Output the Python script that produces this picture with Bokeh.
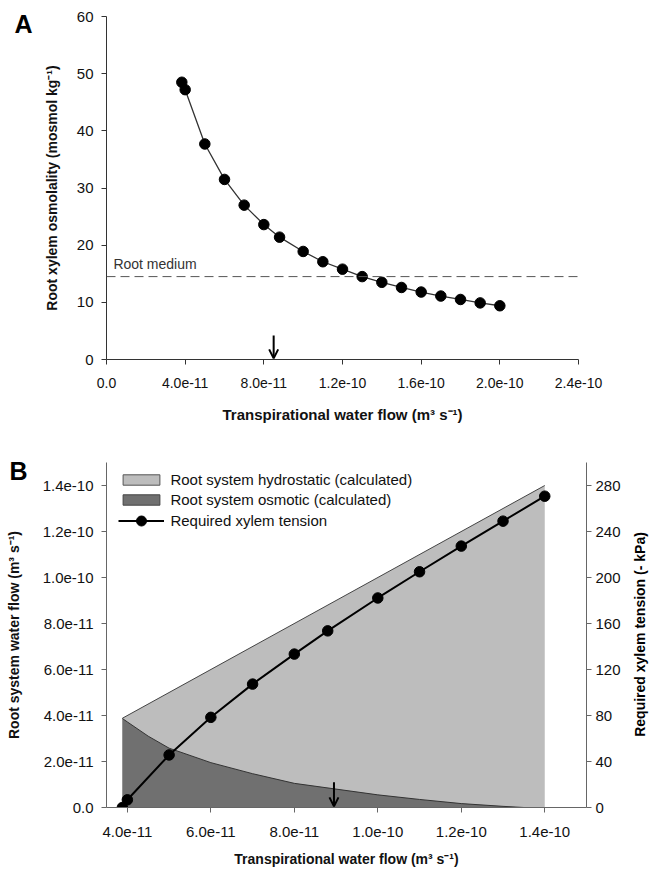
import math
from bokeh.plotting import figure
from bokeh.models import (Range1d, LinearAxis, FixedTicker, Label, Arrow, OpenHead,
                          Legend, LegendItem, Span)
from bokeh.layouts import column
from bokeh.embed import file_html
from bokeh.resources import INLINE

FONT = "Liberation Sans"

# ---------------- Panel A data ----------------
flow_a = [3.83e-11, 4.0e-11, 5.0e-11, 6.0e-11, 7.0e-11, 8.0e-11, 8.8e-11, 1.0e-10,
          1.1e-10, 1.2e-10, 1.3e-10, 1.4e-10, 1.5e-10, 1.6e-10, 1.7e-10, 1.8e-10,
          1.9e-10, 2.0e-10]
osmolality_a = [48.5, 47.2, 37.7, 31.5, 27.0, 23.6, 21.4, 18.9, 17.1, 15.8, 14.5,
                13.5, 12.6, 11.8, 11.1, 10.5, 9.9, 9.4]
root_medium = 14.5
arrow_a = [8.5e-11, 4.2, 0.2]  # x, y_start, y_end
xticks_a = [0.0, 4.0e-11, 8.0e-11, 1.2e-10, 1.6e-10, 2.0e-10, 2.4e-10]
xlabels_a = ["0.0", "4.0e-11", "8.0e-11", "1.2e-10", "1.6e-10", "2.0e-10", "2.4e-10"]
yticks_a = [0, 10, 20, 30, 40, 50, 60]
ylabels_a = ["0", "10", "20", "30", "40", "50", "60"]
panel_letter_a = ("A", 58.7)

# ---------------- Panel B data ----------------
total_flow_x = [3.88e-11, 1.4e-10]
total_flow_y = [3.88e-11, 1.4e-10]
osm_flow_x = [3.88e-11, 4.0e-11, 4.5e-11, 5.0e-11, 6.0e-11, 7.0e-11, 8.0e-11, 9.0e-11,
              1.0e-10, 1.1e-10, 1.2e-10, 1.3e-10, 1.35e-10]
osm_flow_y = [3.87e-11, 3.72e-11, 3.1e-11, 2.58e-11, 1.95e-11, 1.47e-11, 1.05e-11,
              0.8e-11, 0.55e-11, 0.35e-11, 0.17e-11, 0.05e-11, 0.0]
flow_b = [3.88e-11, 4.0e-11, 5.0e-11, 6.0e-11, 7.0e-11, 8.0e-11, 8.8e-11, 1.0e-10,
          1.1e-10, 1.2e-10, 1.3e-10, 1.4e-10]
tension_kpa = [0, 6.7, 45.7, 78.4, 107.3, 133.4, 153.6, 182.2, 205.0, 227.3, 249.0, 270.7]
arrow_b = [8.95e-11, 1.1e-11, 0.05e-11]
xticks_b = [4.0e-11, 6.0e-11, 8.0e-11, 1.0e-10, 1.2e-10, 1.4e-10]
xlabels_b = ["4.0e-11", "6.0e-11", "8.0e-11", "1.0e-10", "1.2e-10", "1.4e-10"]
yticks_b = [0.0, 2.0e-11, 4.0e-11, 6.0e-11, 8.0e-11, 1.0e-10, 1.2e-10, 1.4e-10]
ylabels_b = ["0.0", "2.0e-11", "4.0e-11", "6.0e-11", "8.0e-11", "1.0e-10", "1.2e-10", "1.4e-10"]
rticks_b = [0, 40, 80, 120, 160, 200, 240, 280]
rlabels_b = ["0", "40", "80", "120", "160", "200", "240", "280"]
right_title = "Required xylem tension (- kPa)"
right_title_anchor = 61.5  # kPa position where the rotated title starts
panel_letter_b = ("B", 1.463e-10)


def style_axis(ax, color, tick_size, label_size):
    ax.axis_line_color = color
    ax.major_tick_line_color = color
    ax.major_tick_out = 5
    ax.major_tick_in = 0
    ax.minor_tick_line_color = None
    ax.major_label_text_font = FONT
    ax.major_label_text_font_size = tick_size
    ax.major_label_text_color = "#111111"
    ax.axis_label_text_font = FONT
    ax.axis_label_text_font_style = "bold"
    ax.axis_label_text_font_size = label_size
    ax.axis_label_text_color = "#111111"


def text_axis(p, side, text, pos, standoff, size, orientation="horizontal", range_name=None):
    """Bare outer axis whose single tick label carries a free-standing text."""
    kw = {"y_range_name": range_name} if range_name else {}
    ax = LinearAxis(**kw)
    p.add_layout(ax, side)
    ax.axis_line_color = None
    ax.major_tick_line_color = None
    ax.minor_tick_line_color = None
    ax.ticker = FixedTicker(ticks=[pos])
    ax.major_label_overrides = {pos: text}
    ax.major_label_orientation = orientation
    ax.major_label_standoff = standoff
    ax.major_label_text_font = FONT
    ax.major_label_text_font_style = "bold"
    ax.major_label_text_font_size = size
    ax.major_label_text_color = "black"
    return ax


# ================= Panel A =================
pa = figure(width=651, height=434, output_backend="svg", toolbar_location=None,
            x_range=Range1d(0, 2.4e-10), y_range=Range1d(0, 60),
            min_border_left=104, min_border_right=70, min_border_top=16, min_border_bottom=75)
pa.grid.visible = False
pa.outline_line_color = None

style_axis(pa.xaxis[0], "#333333", "14px", "15px")
style_axis(pa.yaxis[0], "#333333", "15px", "14px")
pa.xaxis[0].ticker = FixedTicker(ticks=xticks_a)
pa.xaxis[0].major_label_overrides = dict(zip(xticks_a, xlabels_a))
pa.yaxis[0].ticker = FixedTicker(ticks=yticks_a)
pa.yaxis[0].major_label_overrides = dict(zip(yticks_a, ylabels_a))
pa.xaxis[0].axis_label = "Transpirational water flow (m\u00b3 s\u207b\u00b9)"
pa.yaxis[0].axis_label = "Root xylem osmolality (mosmol kg\u207b\u00b9)"
pa.xaxis[0].major_label_standoff = 13
pa.xaxis[0].axis_label_standoff = 15
pa.yaxis[0].major_label_standoff = 8
pa.yaxis[0].axis_label_standoff = 14
text_axis(pa, "left", panel_letter_a[0], panel_letter_a[1], 2, "25px")

pa.add_layout(Span(location=root_medium, dimension="width", line_color="#555555",
                   line_width=1, line_dash="9 5"))
pa.add_layout(Label(x=0.35e-11, y=root_medium + 0.8, text="Root medium",
                    text_font=FONT, text_font_size="14px", text_color="#333333"))
pa.line(flow_a, osmolality_a, line_color="#333333", line_width=1.3)
pa.scatter(flow_a, osmolality_a, size=10.5, fill_color="black", line_color="black")
pa.add_layout(Arrow(end=OpenHead(size=9, line_width=2, line_color="black"),
                    x_start=arrow_a[0], y_start=arrow_a[1], x_end=arrow_a[0], y_end=arrow_a[2],
                    line_width=2, line_color="black"))

# ================= Panel B =================
FH = 345
pb = figure(width=659, height=437, output_backend="svg", toolbar_location=None,
            x_range=Range1d(3.5e-11, 1.5e-10), y_range=Range1d(0, 1.5e-10),
            min_border_left=106, min_border_right=72, min_border_top=28, min_border_bottom=64)
pb.grid.visible = False
pb.outline_line_color = None
pb.extra_y_ranges = {"kpa": Range1d(0, 300)}
raxis = LinearAxis(y_range_name="kpa")
pb.add_layout(raxis, "right")
bx = pb.xaxis[0]
by = pb.yaxis[0]

for ax in (bx, by, raxis):
    style_axis(ax, "#666666", "15px", "14px")
bx.ticker = FixedTicker(ticks=xticks_b)
bx.major_label_overrides = dict(zip(xticks_b, xlabels_b))
by.ticker = FixedTicker(ticks=yticks_b)
by.major_label_overrides = dict(zip(yticks_b, ylabels_b))
raxis.ticker = FixedTicker(ticks=rticks_b)
raxis.major_label_overrides = dict(zip(rticks_b, rlabels_b))
bx.axis_label = "Transpirational water flow (m\u00b3 s\u207b\u00b9)"
by.axis_label = "Root system water flow (m\u00b3 s\u207b\u00b9)"
bx.major_label_standoff = 14
bx.axis_label_standoff = 11
by.major_label_standoff = 8
by.axis_label_standoff = 18
raxis.major_label_standoff = 4

# right-hand title (reads bottom-to-top) and panel letter
text_axis(pb, "right", right_title, right_title_anchor, 11, "14px",
          orientation=math.pi / 2, range_name="kpa")
text_axis(pb, "left", panel_letter_b[0], panel_letter_b[1], -31, "25px")

LIGHT = "#bdbdbd"
DARK = "#707070"
hx = [total_flow_x[0]] + total_flow_x + [total_flow_x[-1]]
hy = [0.0] + total_flow_y + [0.0]
pb.patch(hx, hy, fill_color=LIGHT, line_color=None)
pb.line(total_flow_x, total_flow_y, line_color="#444444", line_width=1)
ox = [osm_flow_x[0]] + osm_flow_x
oy = [0.0] + osm_flow_y
pb.patch(ox, oy, fill_color=DARK, line_color=None)
pb.line(osm_flow_x, osm_flow_y, line_color="#333333", line_width=1)

tl = pb.line(flow_b, tension_kpa, y_range_name="kpa", line_color="black", line_width=2)
ts = pb.scatter(flow_b, tension_kpa, y_range_name="kpa", size=10.5,
                fill_color="black", line_color="black")

# legend proxies (hidden copies of the areas, with outlines)
lg_h = pb.patch(hx, hy, fill_color=LIGHT, line_color="#555555", line_width=1, visible=False)
lg_o = pb.patch(ox, oy, fill_color=DARK, line_color="#444444", line_width=1, visible=False)


def make_legend(label, renderers, gh, loc):
    lg = Legend(items=[LegendItem(label=label, renderers=renderers)], location=loc)
    lg.glyph_width = 46
    lg.glyph_height = gh
    lg.label_height = gh
    lg.spacing = 0
    lg.label_standoff = 6
    lg.padding = 0
    lg.margin = 0
    lg.border_line_alpha = 0
    lg.background_fill_alpha = 0
    lg.label_text_font = FONT
    lg.label_text_font_size = "15px"
    lg.label_text_color = "#111111"
    pb.add_layout(lg, "center")


make_legend("Root system hydrostatic (calculated)", [lg_h], 13, (12.4, FH - 12.5 - 13))
make_legend("Root system osmotic (calculated)", [lg_o], 13, (12.4, FH - 32.5 - 13))
make_legend("Required xylem tension", [tl, ts], 25, (12.4, FH - 45.5 - 25))

pb.add_layout(Arrow(end=OpenHead(size=9, line_width=2, line_color="black"),
                    x_start=arrow_b[0], y_start=arrow_b[1], x_end=arrow_b[0], y_end=arrow_b[2],
                    line_width=2, line_color="black"))

layout = column(pa, pb)
open("out.html", "w").write(file_html(layout, INLINE))
